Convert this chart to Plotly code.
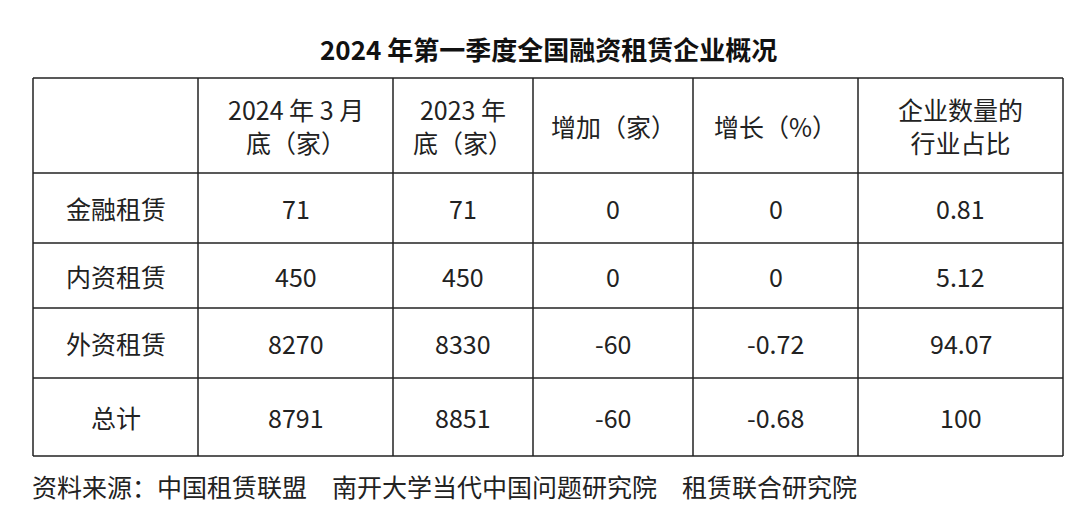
import plotly.graph_objects as go

# table data
headers = ["", "2024 年 3 月<br>底（家）", "2023 年<br>底（家）", "增加（家）", "增长（%）", "企业数量的<br>行业占比"]
categories = ["金融租赁", "内资租赁", "外资租赁", "总计"]
mar_2024 = ["71", "450", "8270", "8791"]
end_2023 = ["71", "450", "8330", "8851"]
increase = ["0", "0", "-60", "-60"]
growth = ["0", "0", "-0.72", "-0.68"]
share = ["0.81", "5.12", "94.07", "100"]

font_family = "Noto Sans CJK SC"
col_edges = [25, 190, 385, 525, 685, 850, 1055]
row_edges = [70, 165, 235, 300, 370, 448]

columns = [categories, mar_2024, end_2023, increase, growth, share]
rows = [headers] + [[c[i] for c in columns] for i in range(len(categories))]

fig = go.Figure()
fig.add_trace(go.Scatter(x=[0, 1080], y=[0, 509], mode="markers",
                         marker=dict(opacity=0), hoverinfo="skip"))

# grid lines
for x in col_edges:
    fig.add_shape(type="line", x0=x, x1=x, y0=row_edges[0], y1=row_edges[-1],
                  line=dict(color="#222", width=1.5))
for y in row_edges:
    fig.add_shape(type="line", x0=col_edges[0], x1=col_edges[-1], y0=y, y1=y,
                  line=dict(color="#222", width=1.5))

# cell texts
for r, row in enumerate(rows):
    yc = (row_edges[r] + row_edges[r + 1]) / 2
    for c, txt in enumerate(row):
        xc = (col_edges[c] + col_edges[c + 1]) / 2
        fig.add_annotation(x=xc, y=yc, text=txt, showarrow=False,
                           font=dict(family=font_family, size=25, color="#222"))

fig.add_annotation(
    text="<b>2024 年第一季度全国融资租赁企业概况</b>",
    x=540, y=40, showarrow=False,
    font=dict(family=font_family, size=26, color="#111"),
)
fig.add_annotation(
    text="资料来源：中国租赁联盟　南开大学当代中国问题研究院　租赁联合研究院",
    x=22, y=478, xanchor="left", showarrow=False,
    font=dict(family=font_family, size=25, color="#222"),
)

fig.update_layout(
    width=1080, height=509,
    margin=dict(l=0, r=0, t=0, b=0),
    paper_bgcolor="white", plot_bgcolor="white",
    showlegend=False,
    xaxis=dict(range=[0, 1080], visible=False, fixedrange=True),
    yaxis=dict(range=[509, 0], visible=False, fixedrange=True),
)

fig.write_html("out.html")
